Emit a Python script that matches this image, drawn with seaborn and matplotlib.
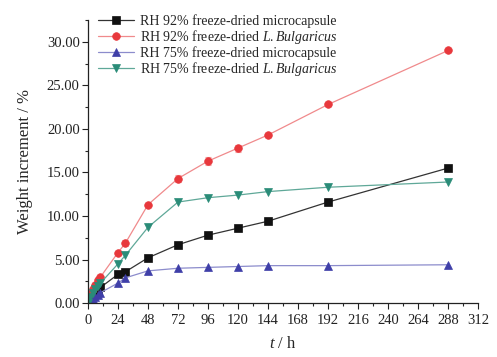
import matplotlib
matplotlib.use("Agg")
import matplotlib.pyplot as plt
import seaborn as sns
import numpy as np
import pandas as pd
from matplotlib.ticker import MultipleLocator, FormatStrFormatter

t = [0, 2, 4, 6, 8, 10, 24, 30, 48, 72, 96, 120, 144, 192, 288]
rh92_micro = [0.0, 0.4, 0.8, 1.1, 1.4, 1.8, 3.3, 3.6, 5.2, 6.7, 7.8, 8.6, 9.4, 11.6, 15.5]
rh92_lb = [0.0, 1.0, 1.6, 2.1, 2.6, 3.0, 5.8, 6.9, 11.3, 14.3, 16.3, 17.8, 19.3, 22.8, 29.0]
rh75_micro = [0.0, 0.3, 0.5, 0.7, 0.9, 1.2, 2.3, 2.9, 3.7, 4.0, 4.1, 4.2, 4.3, 4.3, 4.4]
rh75_lb = [0.0, 0.7, 1.2, 1.6, 2.0, 2.3, 4.5, 5.5, 8.7, 11.6, 12.1, 12.4, 12.8, 13.3, 13.9]
rh92_lb_err = [0, 0, 0, 0, 0, 0, 0.2, 0.3, 0.2, 0.45, 0.5, 0.4, 0.2, 0.2, 0.2]

labels = ["RH 92% freeze-dried microcapsule",
          "RH 92% freeze-dried $\\it{L.Bulgaricus}$",
          "RH 75% freeze-dried microcapsule",
          "RH 75% freeze-dried $\\it{L.Bulgaricus}$"]
series = [rh92_micro, rh92_lb, rh75_micro, rh75_lb]
marker_colors = ["#111111", "#E8383C", "#3F3FA8", "#2A8C78"]
line_colors = ["#333333", "#F08A8C", "#8C8CCC", "#5FA898"]
markers = ["s", "o", "^", "v"]

sns.set_theme(style="ticks")
plt.rcParams['font.family'] = ['Liberation Serif', 'DejaVu Serif']
plt.rcParams['mathtext.fontset'] = 'custom'
plt.rcParams['mathtext.it'] = 'Liberation Serif:italic'
plt.rcParams['mathtext.rm'] = 'Liberation Serif'

fig = plt.figure(figsize=(4.97, 3.57), dpi=100)
ax = fig.add_axes([0.177, 0.151, 0.785, 0.793])

ax.errorbar(t, rh92_lb, yerr=rh92_lb_err, fmt='none', ecolor="#F5A0A0",
            elinewidth=0.8, capsize=2, capthick=0.8, zorder=1)

for lab, vals, mc, lc, mk in zip(labels, series, marker_colors, line_colors, markers):
    df = pd.DataFrame({"t": t, "v": vals})
    sns.lineplot(data=df, x="t", y="v", ax=ax, color=lc, linewidth=0.9,
                 marker=mk, markersize=5.5, markerfacecolor=mc,
                 markeredgecolor=mc, markeredgewidth=0.5, label=lab, zorder=2)

ax.set_xlim(0, 312)
ax.set_ylim(0, 32.5)
ax.xaxis.set_major_locator(MultipleLocator(24))
ax.xaxis.set_minor_locator(MultipleLocator(12))
ax.yaxis.set_major_locator(MultipleLocator(5))
ax.yaxis.set_minor_locator(MultipleLocator(2.5))
ax.yaxis.set_major_formatter(FormatStrFormatter('%.2f'))
ax.tick_params(axis='both', which='major', direction='out', length=4, width=0.8,
               labelsize=10.5, colors='#222222')
ax.tick_params(axis='x', which='major', pad=4)
ax.tick_params(axis='y', which='major', pad=2)
ax.tick_params(axis='both', which='minor', direction='out', length=2.5, width=0.8)
for s in ['top', 'right']:
    ax.spines[s].set_visible(False)
for s in ['left', 'bottom']:
    ax.spines[s].set_linewidth(0.9)
    ax.spines[s].set_color('#222222')

ax.set_xlabel("$\\it{t}$ / h", fontsize=12, labelpad=6)
ax.set_ylabel("Weight increment / %", fontsize=12, labelpad=10)

leg = ax.legend(loc='upper left', bbox_to_anchor=(0.012, 1.04), frameon=False,
                fontsize=10, handlelength=2.6, handletextpad=0.4,
                labelspacing=0.0, borderaxespad=0)

fig.savefig("out.png", dpi=100)
